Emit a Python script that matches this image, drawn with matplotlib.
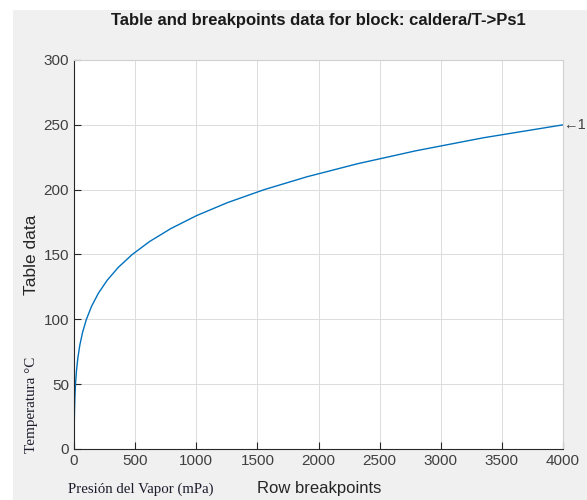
import matplotlib.pyplot as plt
from matplotlib.patches import Rectangle

# --------------
# Data (vapor pressure vs temperature)
# --------------
pressure = [0.61, 1.23, 2.34, 4.25, 7.39, 12.35, 19.95, 31.20, 47.42, 70.18,
            101.4, 143.4, 198.7, 270.3, 361.5, 476.2, 618.2, 792.2, 1002.8,
            1255.2, 1554.9, 1907.7, 2319.6, 2797.1, 3347.5, 4000.0]
temperature = [0, 10, 20, 30, 40, 50, 60, 70, 80, 90, 100, 110, 120, 130, 140,
               150, 160, 170, 180, 190, 200, 210, 220, 230, 240, 250]
xticks = [0, 500, 1000, 1500, 2000, 2500, 3000, 3500, 4000]
yticks = [0, 50, 100, 150, 200, 250, 300]

sans = ['Liberation Sans', 'DejaVu Sans']
serif = ['Liberation Serif', 'DejaVu Serif']
tick_col = '#404040'

fig = plt.figure(figsize=(5.87, 5.00), dpi=100, facecolor='white')
fig.patches.append(Rectangle((13 / 587, 0), 1, 1 - 10 / 500,
                             transform=fig.transFigure, facecolor='#f0f0f0',
                             edgecolor='none', zorder=-10))

ax = fig.add_axes([74 / 587, 1 - 449 / 500, (563 - 74) / 587, (449 - 60) / 500])
ax.set_facecolor('white')
ax.plot(pressure, temperature, color='#0072BD', linewidth=1.0)

ax.set_xlim(0, 4000)
ax.set_ylim(0, 300)
ax.set_xticks(xticks)
ax.set_yticks(yticks)
ax.grid(True, color='#dcdcdc', linewidth=0.7)
ax.set_axisbelow(True)
ax.tick_params(direction='in', length=5, width=0.8, colors='#262626',
               labelcolor=tick_col, labelsize=11)
for lab in ax.get_xticklabels() + ax.get_yticklabels():
    lab.set_family(sans)

for s in ['left', 'bottom']:
    ax.spines[s].set_color('#262626')
    ax.spines[s].set_linewidth(0.8)
for s in ['top', 'right']:
    ax.spines[s].set_color('#d0d0d0')
    ax.spines[s].set_linewidth(0.8)

# --------------
# Labels and annotations
# --------------
fig.text(318 / 587, 1 - 21 / 500, 'Table and breakpoints data for block: caldera/T->Ps1',
         ha='center', va='center', fontsize=12, fontweight='bold',
         family=sans, color='#1a1a1a')
fig.text(319 / 587, 1 - 489 / 500, 'Row breakpoints', ha='center', va='center',
         fontsize=12, family=sans, color='#262626')
fig.text(31 / 587, 1 - 255 / 500, 'Table data', ha='center', va='center',
         rotation=90, fontsize=12.5, family=sans, color='#262626')

fig.text(31 / 587, 1 - 405 / 500, 'Temperatura °C', ha='center', va='center',
         rotation=90, fontsize=10.9, family=serif, color='#1c1c2c')
fig.text(141 / 587, 1 - 489 / 500, 'Presión del Vapor (mPa)', ha='center', va='center',
         fontsize=10.7, family=serif, color='#1c1c2c')

ax.annotate('\u21901', xy=(4000, 250), xytext=(0, 0), textcoords='offset points',
            ha='left', va='center', fontsize=10.5, family=sans, color='#404040',
            annotation_clip=False)

plt.savefig('out.png', dpi=100, facecolor=fig.get_facecolor())
